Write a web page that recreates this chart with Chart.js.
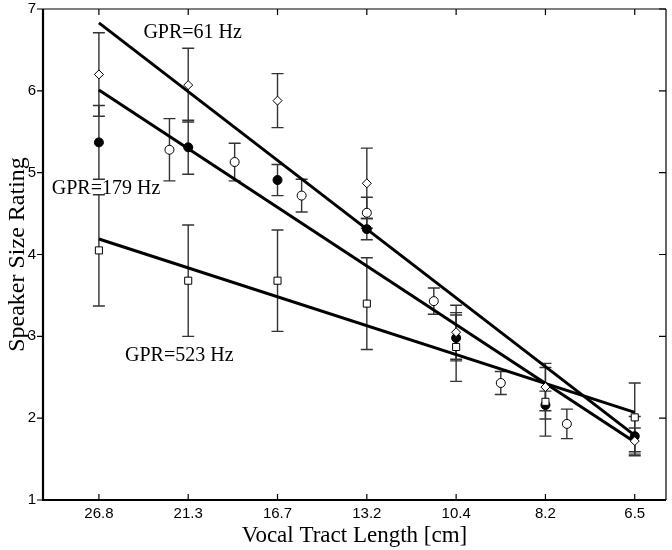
<!DOCTYPE html>
<html>
<head>
<meta charset="utf-8">
<script src="https://cdn.jsdelivr.net/npm/chart.js@4.4.1/dist/chart.umd.min.js"></script>
<style>
  html, body { margin: 0; padding: 0; background: #fff; }
  #wrap { width: 672px; height: 550px; }
</style>
</head>
<body>
<div id="wrap"><canvas id="c" width="672" height="550"></canvas></div>
<script>
// tick labels on the x axis (vocal tract length, evenly spaced on a log scale)
const vtlLabels = ['26.8', '21.3', '16.7', '13.2', '10.4', '8.2', '6.5'];
const vtlIndex = [0, 1, 2, 3, 4, 5, 6];

// GPR = 61 Hz (open diamonds)
const gpr61 = [6.20, 6.07, 5.88, 4.87, 3.05, 2.38, 1.72];
const err61 = [0.51, 0.45, 0.33, 0.43, 0.33, 0.29, 0.16];

// GPR = 179 Hz (filled circles)
const gpr179 = [5.37, 5.31, 4.91, 4.31, 2.98, 2.16, 1.78];
const err179 = [0.45, 0.33, 0.19, 0.13, 0.28, 0.17, 0.24];

// GPR = 523 Hz (open squares)
const gpr523 = [4.05, 3.68, 3.68, 3.40, 2.87, 2.20, 2.01];
const err523 = [0.68, 0.68, 0.62, 0.56, 0.42, 0.42, 0.42];

// intermediate points (open circles)
const midIndex = [0.79, 1.52, 2.27, 3.00, 3.75, 4.50, 5.24];
const midVals = [5.28, 5.13, 4.72, 4.51, 3.43, 2.43, 1.93];
const midErr = [0.38, 0.23, 0.20, 0.19, 0.16, 0.14, 0.18];

// regression lines, value at first and last VTL
const fitEnds = [0, 6];
const fit61 = [6.83, 1.79];
const fit179 = [6.01, 1.71];
const fit523 = [4.19, 2.07];

// line labels
const lineLabels = ['GPR=61 Hz', 'GPR=179 Hz', 'GPR=523 Hz'];
const labelX = [1.05, 0.08, 0.90];
const labelY = [6.71, 4.80, 2.76];

function pts(xs, ys, errs) {
    return xs.map((x, i) => ({ x: x, y: ys[i], e: errs ? errs[i] : 0 }));
}

// 误差线
const errorBars = {
    id: 'errorBars',
    beforeDatasetsDraw(chart) {
        const ctx = chart.ctx;
        const xs = chart.scales.x, ys = chart.scales.y;
        ctx.save();
        ctx.strokeStyle = '#333';
        ctx.lineWidth = 1.4;
        chart.data.datasets.forEach(ds => {
            if (!ds.errorBars) return;
            ds.data.forEach(p => {
                const px = xs.getPixelForValue(p.x);
                const top = ys.getPixelForValue(p.y + p.e);
                const bot = ys.getPixelForValue(p.y - p.e);
                ctx.beginPath();
                ctx.moveTo(px, top); ctx.lineTo(px, bot);
                ctx.moveTo(px - 6, top); ctx.lineTo(px + 6, top);
                ctx.moveTo(px - 6, bot); ctx.lineTo(px + 6, bot);
                ctx.stroke();
            });
        });
        ctx.restore();
    }
};

// 边框, 刻度线和文字标注
const frame = {
    id: 'frame',
    afterDraw(chart) {
        const ctx = chart.ctx;
        const a = chart.chartArea;
        const xs = chart.scales.x, ys = chart.scales.y;
        ctx.save();
        ctx.strokeStyle = '#000';
        ctx.lineWidth = 1.2;
        ctx.beginPath();
        ctx.moveTo(a.left, a.top); ctx.lineTo(a.right, a.top);
        ctx.moveTo(a.right, a.top); ctx.lineTo(a.right, a.bottom);
        ctx.stroke();
        ctx.lineWidth = 2.2;
        ctx.beginPath();
        ctx.moveTo(a.left, a.top); ctx.lineTo(a.left, a.bottom); ctx.lineTo(a.right, a.bottom);
        ctx.stroke();

        ctx.lineWidth = 1.2;
        ctx.beginPath();
        xs.ticks.forEach(t => {
            const px = xs.getPixelForValue(t.value);
            ctx.moveTo(px, a.top); ctx.lineTo(px, a.top + 6);
            ctx.moveTo(px, a.bottom); ctx.lineTo(px, a.bottom - 6);
        });
        ys.ticks.forEach(t => {
            const py = ys.getPixelForValue(t.value);
            ctx.moveTo(a.left - 6, py); ctx.lineTo(a.left, py);
            ctx.moveTo(a.right, py); ctx.lineTo(a.right - 7, py);
        });
        ctx.stroke();

        ctx.fillStyle = '#000';
        ctx.font = '20px "Liberation Serif"';
        ctx.textAlign = 'center';
        ctx.textBaseline = 'middle';
        lineLabels.forEach((txt, i) => {
            ctx.fillText(txt, xs.getPixelForValue(labelX[i]), ys.getPixelForValue(labelY[i]));
        });
        ctx.restore();
    }
};

const markerBase = { showLine: false, borderColor: '#000', borderWidth: 1, errorBars: true };

new Chart(document.getElementById('c'), {
    type: 'scatter',
    data: {
        datasets: [
            Object.assign({}, markerBase, {
                label: 'mid', data: pts(midIndex, midVals, midErr),
                pointStyle: 'circle', pointRadius: 4.5, backgroundColor: '#fff'
            }),
            Object.assign({}, markerBase, {
                label: '523', data: pts(vtlIndex, gpr523, err523),
                pointStyle: 'rect', pointRadius: 5, backgroundColor: '#fff'
            }),
            Object.assign({}, markerBase, {
                label: '61', data: pts(vtlIndex, gpr61, err61),
                pointStyle: 'rectRot', pointRadius: 4.5, backgroundColor: '#fff'
            }),
            Object.assign({}, markerBase, {
                label: '179', data: pts(vtlIndex, gpr179, err179),
                pointStyle: 'circle', pointRadius: 4.5, backgroundColor: '#000'
            }),
            { label: 'fit61', data: pts(fitEnds, fit61), showLine: true, borderColor: '#000', borderWidth: 3, pointRadius: 0 },
            { label: 'fit179', data: pts(fitEnds, fit179), showLine: true, borderColor: '#000', borderWidth: 3, pointRadius: 0 },
            { label: 'fit523', data: pts(fitEnds, fit523), showLine: true, borderColor: '#000', borderWidth: 3, pointRadius: 0 }
        ]
    },
    options: {
        responsive: false,
        animation: false,
        layout: { padding: { top: 9, right: 5, left: 0, bottom: 0 } },
        plugins: { legend: { display: false }, tooltip: { enabled: false } },
        scales: {
            x: {
                type: 'linear',
                min: -0.626,
                max: 6.35,
                grid: { display: false, drawTicks: false },
                border: { display: false },
                afterBuildTicks: s => { s.ticks = vtlIndex.map(v => ({ value: v })); },
                afterFit: s => { s.height = 50; },
                ticks: {
                    padding: 5,
                    color: '#000',
                    font: { family: 'Liberation Sans', size: 15 },
                    callback: v => vtlLabels[v]
                },
                title: {
                    display: true,
                    text: 'Vocal Tract Length [cm]',
                    color: '#000',
                    font: { family: 'Liberation Serif', size: 23 },
                    padding: { top: 0, bottom: 0 }
                }
            },
            y: {
                min: 1,
                max: 7,
                grid: { display: false, drawTicks: false },
                border: { display: false },
                afterFit: s => { s.width = 43; s.paddingTop = 0; s.paddingBottom = 0; },
                ticks: {
                    stepSize: 1,
                    padding: 7,
                    color: '#000',
                    font: { family: 'Liberation Sans', size: 15, lineHeight: 1 }
                },
                title: {
                    display: true,
                    text: 'Speaker Size Rating',
                    color: '#000',
                    font: { family: 'Liberation Serif', size: 24 },
                    padding: { top: 3, bottom: 0 }
                }
            }
        }
    },
    plugins: [errorBars, frame]
});
</script>
</body>
</html>
